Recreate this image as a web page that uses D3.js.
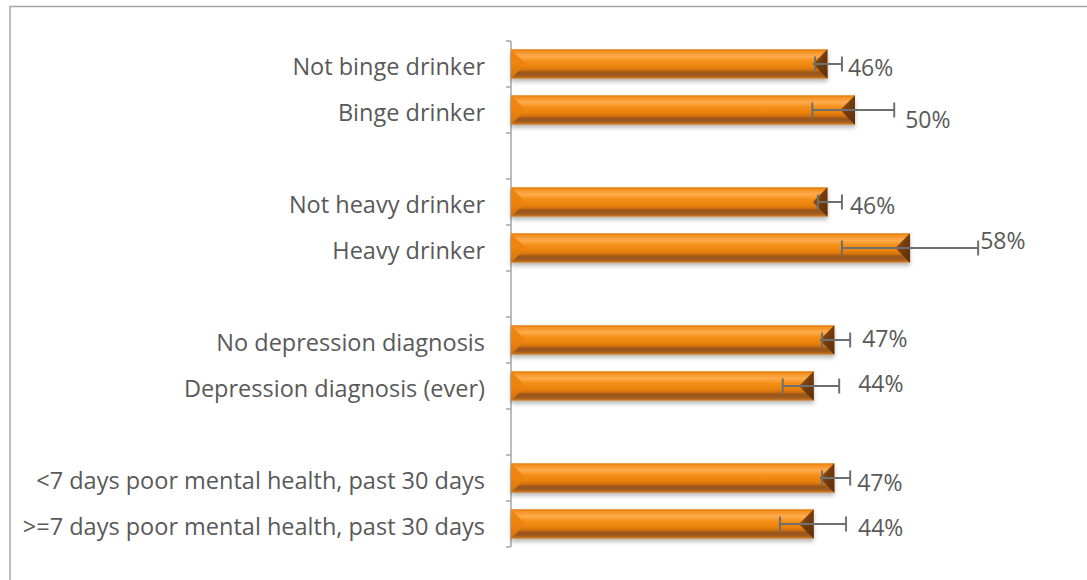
<!DOCTYPE html>
<html>
<head>
<meta charset="utf-8">
<script src="https://cdn.jsdelivr.net/npm/d3@7"></script>
<style>
  html, body { margin: 0; padding: 0; background: #fff; }
  svg { display: block; }
  text { font-family: "Open Sans", sans-serif; fill: #595959; }
</style>
</head>
<body>
<svg id="chart" width="1087" height="580"></svg>
<script>
// Row labels (blank rows separate the groups)
const categories = [
  "Not binge drinker", "Binge drinker", "",
  "Not heavy drinker", "Heavy drinker", "",
  "No depression diagnosis", "Depression diagnosis (ever)", "",
  "<7 days poor mental health, past 30 days", ">=7 days poor mental health, past 30 days"
];
// Percent per row (null for spacer rows)
const values = [46, 50, null, 46, 58, null, 47, 44, null, 47, 44];
// 95% confidence interval bounds, percent
const ciLow  = [44.2, 43.8, null, 44.6, 48.1, null, 45.2, 39.5, null, 45.2, 39.1];
const ciHigh = [48.1, 55.7, null, 48.1, 67.9, null, 49.3, 47.7, null, 49.3, 48.7];

const rows = categories.map((c, i) => ({
  i, label: c, value: values[i], lo: ciLow[i], hi: ciHigh[i]
}));

const svg = d3.select("#chart");

// chart frame (right and bottom edges fall outside the view)
svg.append("rect")
  .attr("x", 10).attr("y", 6.5)
  .attr("width", 1100).attr("height", 600)
  .attr("fill", "none").attr("stroke", "#a6a6a6").attr("stroke-width", 1.5);

const x = d3.scaleLinear().domain([0, 80]).range([511, 1061.4]);
const y = d3.scaleBand().domain(d3.range(categories.length))
  .range([41, 547]).paddingInner(0.36).paddingOuter(0.18);
const step = y.step();

const defs = svg.append("defs");
const grad = defs.append("linearGradient").attr("id", "barFill")
  .attr("x1", 0).attr("y1", 0).attr("x2", 0).attr("y2", 1);
[[0, "#e07806"], [0.07, "#f28f22"], [0.24, "#ffac4c"], [0.40, "#f5901a"],
 [0.60, "#ea820c"], [0.71, "#d07010"], [0.78, "#9a561a"], [0.90, "#a05c1c"],
 [1, "#d8822a"]].forEach(([o, c]) => grad.append("stop").attr("offset", o).attr("stop-color", c));

const gradL = defs.append("linearGradient").attr("id", "bevelLeft")
  .attr("x1", 0).attr("y1", 0).attr("x2", 0).attr("y2", 1);
[[0, "#f0860e"], [0.5, "#ee840e"], [1, "#d4740c"]]
  .forEach(([o, c]) => gradL.append("stop").attr("offset", o).attr("stop-color", c));

const gradR = defs.append("linearGradient").attr("id", "bevelRight")
  .attr("x1", 0).attr("y1", 0).attr("x2", 1).attr("y2", 1);
[[0, "#b0621a"], [0.5, "#743c0e"], [1, "#5a2e0a"]]
  .forEach(([o, c]) => gradR.append("stop").attr("offset", o).attr("stop-color", c));

const shadow = defs.append("filter").attr("id", "barShadow")
  .attr("x", "-5%").attr("y", "-30%").attr("width", "110%").attr("height", "180%");
shadow.append("feDropShadow").attr("dx", 0).attr("dy", 3).attr("stdDeviation", 2.2)
  .attr("flood-color", "#000").attr("flood-opacity", 0.28);

// category axis line with ticks at row boundaries
const axisG = svg.append("g");
axisG.append("line")
  .attr("x1", x(0)).attr("x2", x(0))
  .attr("y1", y.range()[0]).attr("y2", y.range()[1])
  .attr("stroke", "#a6a6a6").attr("stroke-width", 1.5);
axisG.selectAll("line.tick")
  .data(d3.range(categories.length + 1))
  .join("line").attr("class", "tick")
  .attr("x1", x(0) - 5).attr("x2", x(0))
  .attr("y1", k => y.range()[0] + k * step)
  .attr("y2", k => y.range()[0] + k * step)
  .attr("stroke", "#a6a6a6").attr("stroke-width", 1.5);

// category labels
svg.append("g").selectAll("text")
  .data(rows.filter(r => r.label))
  .join("text")
  .attr("x", 485)
  .attr("y", r => y(r.i) + y.bandwidth() / 2)
  .attr("dy", "0.45em")
  .attr("text-anchor", "end")
  .attr("font-size", 23.5)
  .text(r => r.label);

// bars with bevelled ends
const data = rows.filter(r => r.value != null);
const bars = svg.append("g").selectAll("g.bar")
  .data(data).join("g").attr("class", "bar");

bars.append("rect")
  .attr("x", x(0))
  .attr("y", r => y(r.i))
  .attr("width", r => x(r.value) - x(0))
  .attr("height", y.bandwidth())
  .attr("fill", "url(#barFill)")
  .attr("filter", "url(#barShadow)");

const bev = y.bandwidth() / 2;
bars.append("path")
  .attr("fill", "url(#bevelLeft)")
  .attr("d", r => {
    const y0 = y(r.i), h = y.bandwidth(), x0 = x(0);
    return `M${x0},${y0}L${x0 + bev},${y0 + h / 2}L${x0},${y0 + h}Z`;
  });
bars.append("path")
  .attr("fill", "url(#bevelRight)")
  .attr("d", r => {
    const y0 = y(r.i), h = y.bandwidth(), x1 = x(r.value);
    return `M${x1},${y0}L${x1 - bev},${y0 + h / 2}L${x1},${y0 + h}Z`;
  });

// error bars
const err = svg.append("g").attr("stroke", "#6f6f6f").attr("stroke-width", 2);
data.forEach(r => {
  const cy = y(r.i) + y.bandwidth() / 2;
  err.append("line").attr("x1", x(r.lo)).attr("x2", x(r.hi)).attr("y1", cy).attr("y2", cy);
  [r.lo, r.hi].forEach(v => err.append("line")
    .attr("x1", x(v)).attr("x2", x(v)).attr("y1", cy - 7.5).attr("y2", cy + 7.5));
});

// value labels, placed just past the upper error cap
const labelShift = { 0: [6, 3], 1: [11, 9], 3: [8, 3], 4: [2, -8], 6: [12, -2], 7: [19, -3], 9: [7, 4], 10: [12, 3] };
svg.append("g").selectAll("text")
  .data(data).join("text")
  .attr("x", r => x(r.hi) + labelShift[r.i][0])
  .attr("y", r => y(r.i) + y.bandwidth() / 2 + labelShift[r.i][1])
  .attr("dy", "0.4em")
  .attr("font-size", 23)
  .text(r => `${r.value}%`);
</script>
</body>
</html>
